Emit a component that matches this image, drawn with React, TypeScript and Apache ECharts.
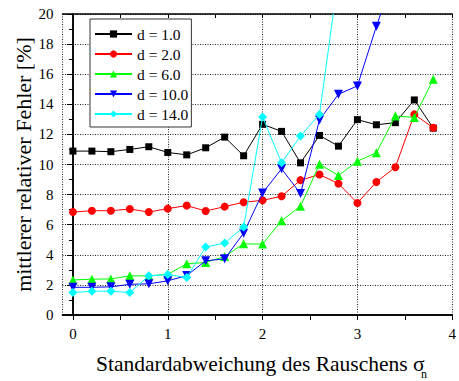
import React, { useEffect, useRef } from "react";
import * as echarts from "echarts";

// Noise standard deviation (sigma_n) sample positions
const sigma = [0, 0.2, 0.4, 0.6, 0.8, 1.0, 1.2, 1.4, 1.6, 1.8, 2.0, 2.2, 2.4, 2.6, 2.8, 3.0, 3.2, 3.4, 3.6, 3.8];

// Mean relative error [%] for each distance d
const errD1 = [10.89, 10.89, 10.85, 11.0, 11.18, 10.8, 10.64, 11.11, 11.82, 10.58, 12.67, 12.2, 10.11, 11.93, 11.22, 12.98, 12.64, 12.78, 14.29, 12.42];
const errD2 = [6.84, 6.93, 6.93, 7.04, 6.84, 7.07, 7.27, 6.91, 7.2, 7.49, 7.62, 7.89, 8.96, 9.33, 8.73, 7.44, 8.84, 9.82, 13.33, 12.44];
const errD6 = [2.33, 2.38, 2.4, 2.6, 2.6, 2.7, 3.4, 3.49, 3.89, 4.73, 4.71, 6.27, 7.22, 10.02, 9.27, 10.22, 10.78, 13.22, 13.13, 15.67];
const errD10 = [1.84, 1.84, 1.87, 2.04, 2.07, 2.27, 2.62, 3.6, 3.73, 5.44, 8.11, 9.71, 8.07, 12.96, 14.67, 15.22, 19.18, 22.8];
const errD14 = [1.49, 1.58, 1.58, 1.49, 2.6, 2.69, 2.49, 4.51, 4.78, 5.84, 13.16, 10.11, 11.89, 13.33, 22.5];

const seriesNames = ["d = 1.0", "d = 2.0", "d = 6.0", "d = 10.0", "d = 14.0"];
const seriesColors = ["#000000", "#ff0000", "#00ff00", "#0000ff", "#00ffff"];

// Axis tick values
const xLabelValues = [0, 1, 2, 3, 4];
const xTickValues = [0, 0.5, 1, 1.5, 2, 2.5, 3, 3.5, 4];

const FONT = "Liberation Serif";
const X_MIN = -0.11;
const X_MAX = 4;

function pairs(values: number[]) {
  return values.map((v, i) => [sigma[i], v]);
}

export default function App() {
  const ref = useRef<HTMLDivElement>(null);

  useEffect(() => {
    if (!ref.current) return;
    const chart = echarts.init(ref.current, undefined, { renderer: "svg" });

    const datasets = [errD1, errD2, errD6, errD10, errD14];
    const symbols = ["rect", "circle", "triangle", "triangle", "diamond"];
    const sizes = [7, 8, 9, 9, 9];
    const rotates = [0, 0, 0, 180, 0];

    const axisLine = { show: true, lineStyle: { color: "#000", width: 1.5 } };
    const gridLine = { show: true, lineStyle: { color: "#222", type: [1, 1.5], width: 1 } };

    chart.setOption({
      animation: false,
      backgroundColor: "#fff",
      textStyle: { fontFamily: FONT },
      grid: { left: 62.5, top: 14, right: 2.3, bottom: 66 },
      legend: {
        orient: "vertical",
        left: 90,
        top: 19,
        itemWidth: 37,
        itemHeight: 9,
        itemGap: 4,
        padding: [7, 3, 5, 4],
        backgroundColor: "#fff",
        borderColor: "#333",
        borderWidth: 1,
        textStyle: { fontFamily: FONT, fontSize: 15.5, color: "#000" },
        data: seriesNames,
      },
      xAxis: [
        {
          type: "value",
          position: "bottom",
          min: X_MIN,
          max: X_MAX,
          axisLine,
          axisTick: { show: false },
          axisLabel: {
            fontFamily: FONT,
            fontSize: 15,
            color: "#000",
            margin: 11,
            customValues: xLabelValues,
            formatter: (v: number) => (Number.isInteger(v) && v >= 0 ? String(v) : ""),
          },
          splitLine: gridLine,
        },
        {
          type: "value",
          position: "bottom",
          min: X_MIN,
          max: X_MAX,
          axisLine,
          axisTick: { show: true, length: 5, lineStyle: { color: "#000", width: 1 }, customValues: xTickValues },
          axisLabel: { show: false },
          splitLine: { show: false },
        },
        {
          type: "value",
          position: "top",
          min: X_MIN,
          max: X_MAX,
          axisLine,
          axisTick: { show: true, inside: true, length: 4, lineStyle: { color: "#000", width: 1 }, customValues: xTickValues },
          axisLabel: { show: false },
          splitLine: { show: false },
        },
      ],
      yAxis: [
        {
          type: "value",
          position: "left",
          min: 0,
          max: 20,
          interval: 2,
          axisLine,
          axisTick: { show: true, length: 6, lineStyle: { color: "#000", width: 1 } },
          minorTick: { show: true, splitNumber: 2, length: 3, lineStyle: { color: "#000", width: 1 } },
          axisLabel: { fontFamily: FONT, fontSize: 15, color: "#000", margin: 9 },
          splitLine: gridLine,
          name: "mittlerer relativer Fehler [%]",
          nameLocation: "middle",
          nameRotate: 90,
          nameGap: 28,
          nameMoveOverlap: false,
          nameTextStyle: { fontFamily: FONT, fontSize: 22, color: "#000" },
        },
        {
          type: "value",
          position: "right",
          min: 0,
          max: 20,
          interval: 2,
          axisLine,
          axisTick: { show: true, inside: true, length: 5, lineStyle: { color: "#000", width: 1 } },
          minorTick: { show: true, splitNumber: 2, length: 4, lineStyle: { color: "#000", width: 1 } },
          axisLabel: { show: false },
          splitLine: { show: false },
        },
      ],
      graphic: [
        {
          type: "text",
          x: 96,
          y: 364,
          style: {
            text: "Standardabweichung des Rauschens σ",
            fontFamily: FONT,
            fontSize: 21.5,
            fill: "#000",
            textAlign: "left",
            verticalAlign: "middle",
          },
        },
        {
          type: "text",
          x: 421,
          y: 374,
          style: {
            text: "n",
            fontFamily: FONT,
            fontSize: 12,
            fill: "#000",
            textAlign: "left",
            verticalAlign: "middle",
          },
        },
      ],
      series: datasets.map((vals, i) => ({
        name: seriesNames[i],
        type: "line",
        xAxisIndex: 0,
        yAxisIndex: 0,
        data: pairs(vals),
        symbol: symbols[i],
        symbolSize: sizes[i],
        symbolRotate: rotates[i],
        showAllSymbol: true,
        clip: true,
        lineStyle: { color: seriesColors[i], width: 1 },
        itemStyle: { color: seriesColors[i], borderWidth: 0 },
        z: 2 + i,
      })),
    });

    return () => chart.dispose();
  }, []);

  return (
    <div
      ref={ref}
      style={{ position: "fixed", left: 0, top: 0, width: 459, height: 381 }}
    />
  );
}
